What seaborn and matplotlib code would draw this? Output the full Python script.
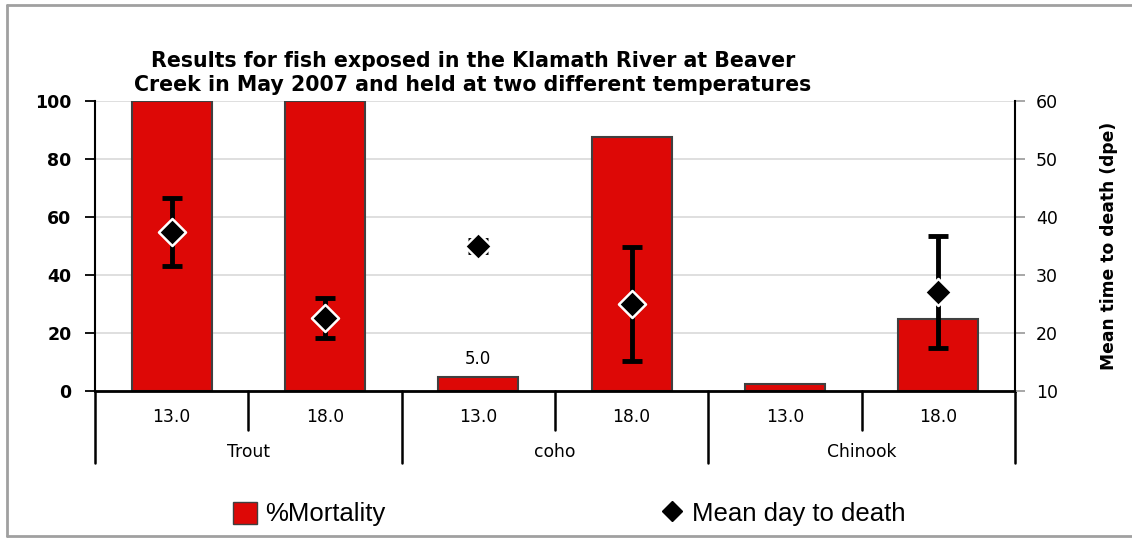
import numpy as np
import pandas as pd
import matplotlib
matplotlib.use("Agg")
import matplotlib.pyplot as plt
import matplotlib.transforms as mtransforms
from matplotlib.patches import Patch
from matplotlib.lines import Line2D
import seaborn as sns

# Data
species = ["Trout", "Trout", "coho", "coho", "Chinook", "Chinook"]
temps = ["13.0", "18.0", "13.0", "18.0", "13.0", "18.0"]
mortality = [100.0, 100.0, 5.0, 87.5, 2.5, 25.0]
mean_day = [37.4, 22.6, 35.0, 25.0, np.nan, 27.1]
mean_day_err = [5.8, 3.4, 1.1, 9.8, np.nan, 9.7]
bar_labels = ["", "", "5.0", "", "", ""]

df = pd.DataFrame({"species": species, "temp": temps, "mortality": mortality,
                   "mean_day": mean_day, "err": mean_day_err})
df["group"] = df["species"] + " " + df["temp"]
df["pos"] = np.arange(len(df))

RED = "#dd0806"

sns.set_style("white")
plt.rcParams["font.family"] = ["DejaVu Sans"]
plt.rcParams["text.color"] = "black"
plt.rcParams["axes.labelcolor"] = "black"
plt.rcParams["xtick.color"] = "black"
plt.rcParams["ytick.color"] = "black"

fig = plt.figure(figsize=(11.32, 5.38), dpi=100)
W, H = 1132, 538
ax = fig.add_axes([95 / W, 1 - 391 / H, 920 / W, 290 / H])

sns.barplot(data=df, x="group", y="mortality", color=RED, saturation=1,
            edgecolor="#404040", linewidth=1.5, width=0.52, ax=ax, zorder=2)
ax.bar_label(ax.containers[0], labels=bar_labels, padding=6, fontsize=12)

ax.set_xlim(-0.5, 5.5)
ax.set_ylim(0, 100)
ax.set_yticks(range(0, 101, 20))
ax.set_yticklabels([str(v) for v in range(0, 101, 20)], fontweight="bold", fontsize=12.5)
ax.set_xticks([])
ax.set_xlabel("")
ax.set_ylabel("")
ax.grid(axis="y", color="#d9d9d9", linewidth=1.2, zorder=0)
ax.set_axisbelow(True)
ax.tick_params(axis="y", direction="out", length=7, width=1.3, color="black", pad=10, left=True)
ax.spines["top"].set_visible(False)
ax.spines["left"].set_color("black")
ax.spines["left"].set_linewidth(1.5)
ax.spines["bottom"].set_color("black")
ax.spines["bottom"].set_linewidth(2)
ax.spines["right"].set_visible(False)

# secondary axis: mean time to death
ax2 = ax.twinx()
ax2.set_ylim(10, 60)
ax2.set_yticks(range(10, 61, 10))
ax2.set_yticklabels([str(v) for v in range(10, 61, 10)], fontsize=12.5)
ax2.tick_params(axis="y", direction="out", length=7, width=1.3, color="#a0a0a0",
                labelcolor="black", pad=8)
ax2.set_ylabel("Mean time to death (dpe)", fontweight="bold", fontsize=12.3, labelpad=30)
ax2.spines["top"].set_visible(False)
ax2.spines["left"].set_visible(False)
ax2.spines["bottom"].set_visible(False)
ax2.spines["right"].set_color("black")
ax2.spines["right"].set_linewidth(1.5)

ax2.errorbar(df["pos"], df["mean_day"], yerr=df["err"], fmt="none", ecolor="black",
             elinewidth=3.5, capsize=7, capthick=3.5, zorder=3)
sns.scatterplot(data=df, x="pos", y="mean_day", marker="D", s=190, color="black",
                edgecolor="white", linewidth=1.8, ax=ax2, zorder=4, legend=False)
ax2.set_xlim(-0.5, 5.5)
ax2.set_xlabel("")

# two-level category axis below the plot
trans = mtransforms.blended_transform_factory(ax.transData, ax.transAxes)
for i, row in df.iterrows():
    ax.text(row["pos"], -0.09, row["temp"], transform=trans, ha="center", va="center",
            fontsize=12.3)
for b in [-0.5, 1.5, 3.5, 5.5]:
    ax.plot([b, b], [0, -0.248], transform=trans, color="black", lw=1.8, clip_on=False)
for b in [0.5, 2.5, 4.5]:
    ax.plot([b, b], [0, -0.134], transform=trans, color="black", lw=1.8, clip_on=False)
groups = df.groupby("species", sort=False)["pos"].mean()
for name, p in groups.items():
    ax.text(p, -0.21, name, transform=trans, ha="center", va="center", fontsize=12.3)

fig.text(473 / W, 1 - 73 / H,
         "Results for fish exposed in the Klamath River at Beaver\n"
         "Creek in May 2007 and held at two different temperatures",
         ha="center", va="center", fontsize=14.8, fontweight="bold", linespacing=1.3)

handles = [Patch(facecolor=RED, edgecolor="#404040", linewidth=1),
           Line2D([], [], marker="D", color="black", linestyle="none", markersize=10)]
fig.legend(handles, ["%Mortality", "Mean day to death"], ncol=2, loc="center",
           bbox_to_anchor=(0.503, 1 - 514 / H), frameon=False,
           prop={"family": "Liberation Sans", "size": 18.5}, columnspacing=10.7,
           handlelength=0.95, handleheight=0.95, handletextpad=0.3)

# outer chart border
fig.add_artist(plt.Line2D([7 / W, 7 / W], [1 - 536 / H, 1 - 5 / H], transform=fig.transFigure,
                          color="#a0a0a0", lw=2))
fig.add_artist(plt.Line2D([7 / W, 1], [1 - 5 / H, 1 - 5 / H], transform=fig.transFigure,
                          color="#a0a0a0", lw=2))
fig.add_artist(plt.Line2D([7 / W, 1], [1 - 536 / H, 1 - 536 / H], transform=fig.transFigure,
                          color="#a0a0a0", lw=2))

fig.savefig("out.png", dpi=100)
